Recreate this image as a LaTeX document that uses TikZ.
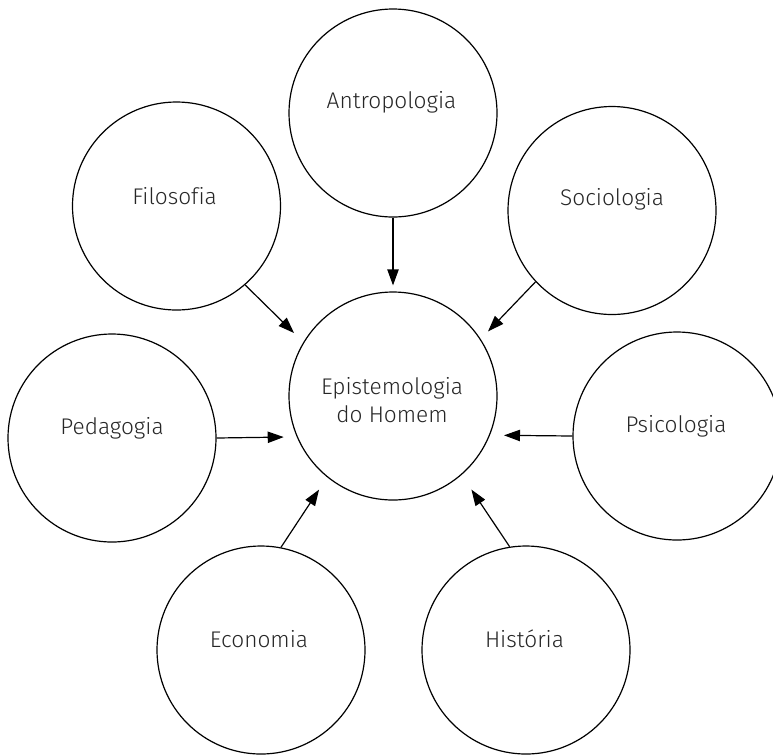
\documentclass[tikz,border=0pt]{standalone}
\usepackage{fontspec}
\setmainfont{Fira Sans Light}[Ligatures=NoCommon]
\usetikzlibrary{arrows.meta}
\begin{document}
\begin{tikzpicture}[x=0.75pt,y=-0.75pt,
  bubble/.style={circle,draw=black,line width=0.9pt,minimum size=156pt,inner sep=0pt},
  lbl/.style={font=\fontsize{17}{21}\selectfont,text=black!85,align=center,inner sep=0pt},
  arr/.style={-{Triangle[length=12pt,width=8.5pt]},line width=0.9pt}]
\useasboundingbox (0,0) rectangle (773,754);
% circles
\node[bubble] (epi)   at (393,396) {};
\node[bubble] (antro) at (393,113) {};
\node[bubble] (filo)  at (176.5,206) {};
\node[bubble] (soc)   at (612,210.5) {};
\node[bubble] (ped)   at (112,438) {};
\node[bubble] (psi)   at (677,436) {};
\node[bubble] (eco)   at (261,650) {};
\node[bubble] (hist)  at (526,650) {};
% labels
\node[lbl] (epi-t)   at (392,400) {Epistemologia\\do Homem};
\node[lbl] (antro-t) at (391.5,102) {Antropologia};
\node[lbl] (filo-t)  at (174.5,196) {Filosofia};
\node[lbl] (soc-t)   at (612,199.5) {Sociologia};
\node[lbl] (ped-t)   at (112,428) {Pedagogia};
\node[lbl] (psi-t)   at (676,426) {Psicologia};
\node[lbl] (eco-t)   at (259,639) {Economia};
\node[lbl] (hist-t)  at (524.5,639) {História};
% arrows
\draw[arr,shorten >=4.5pt]  (antro.-90)   -- (epi.90);
\draw[arr,shorten >=9.75pt] (filo.-49.1)  -- (epi.149.6);
\draw[arr,shorten >=7.9pt]  (soc.223.7)   -- (epi.33.7);
\draw[arr,shorten >=9.75pt] (ped.0)       -- (epi.203.8);
\draw[arr,shorten >=10.5pt] (psi.180)     -- (epi.-22.6);
\draw[arr,shorten >=11.1pt] (eco.79.5)    -- (epi.-129.1);
\draw[arr,shorten >=13.2pt] (hist.99.4)   -- (epi.-49.8);
\end{tikzpicture}
\end{document}
